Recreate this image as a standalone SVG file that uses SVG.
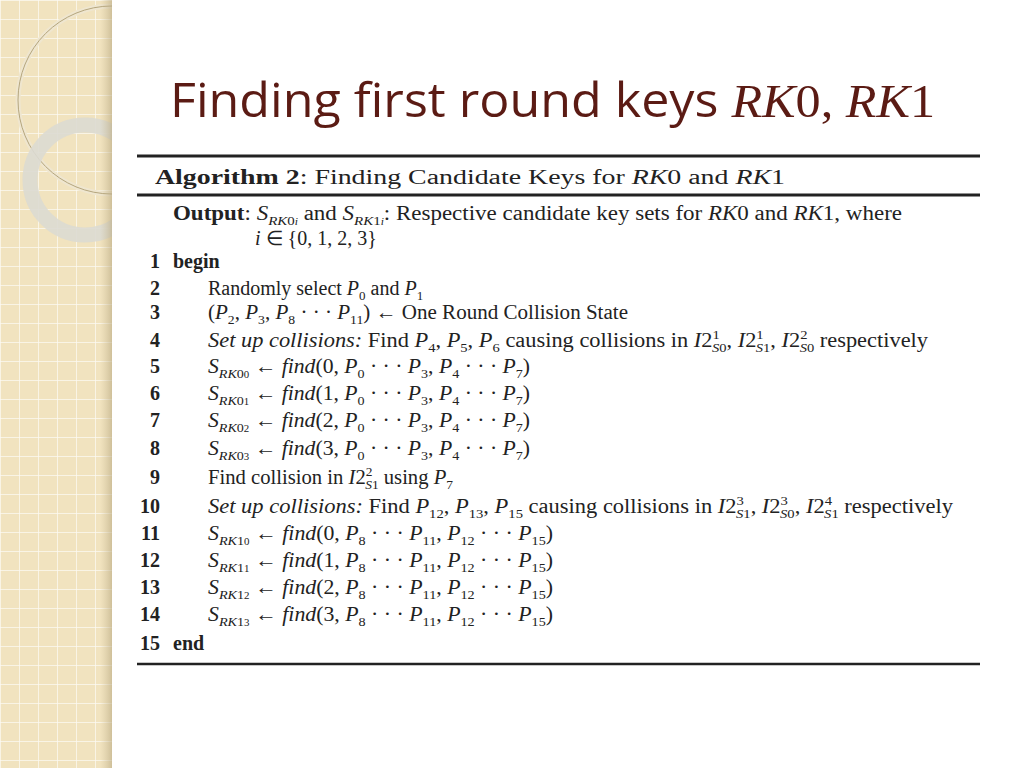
<svg xmlns="http://www.w3.org/2000/svg" width="1024" height="768" viewBox="0 0 1024 768">
<style>
.a{font-family:"Liberation Serif",serif;font-size:20px;fill:#222}
.b{font-weight:bold}
.i{font-style:italic}
.s{font-size:13px;baseline-shift:-5px}
.u{font-size:13px;baseline-shift:8px}
.n{font-weight:bold;text-anchor:end}
.g{stroke:#fff;stroke-width:1.5;opacity:.8}
</style>
<defs>
<clipPath id="c"><rect x="0" y="0" width="112" height="768"/></clipPath>
<linearGradient id="sh" x1="0" x2="1"><stop offset="0" stop-color="#c9b994" stop-opacity="0"/><stop offset="1" stop-color="#b8a880" stop-opacity=".6"/></linearGradient>
<pattern id="grid" width="19" height="19" patternUnits="userSpaceOnUse"><rect width="19" height="19" fill="#f1e3bf"/><path d="M0 0H19M0 0V19" class="g"/></pattern>
</defs>
<rect width="1024" height="768" fill="#fff"/>
<g id="strip" clip-path="url(#c)">
<rect width="112" height="768" fill="url(#grid)"/>
<circle cx="112" cy="100" r="94" fill="none" stroke="#efe6cf" stroke-width="5"/>
<circle cx="112" cy="100" r="94" fill="none" stroke="#b5a67e" stroke-width="1"/>
<circle cx="85" cy="180" r="55" fill="none" stroke="#dcdad2" stroke-width="15" opacity=".9"/>
<rect x="100" width="12" height="768" fill="url(#sh)"/>
</g>
<g id="title">
<text x="170" y="117" font-family="Open Sans,sans-serif" font-size="47" fill="#5b1b14" textLength="765" lengthAdjust="spacingAndGlyphs">Finding first round keys <tspan font-family="Liberation Serif,serif" font-style="italic">RK</tspan><tspan font-family="Liberation Serif,serif">0,</tspan><tspan font-family="Liberation Serif,serif" font-style="italic"> RK</tspan><tspan font-family="Liberation Serif,serif">1</tspan></text>
</g>
<g id="rules" stroke="#222">
<line x1="137" y1="156" x2="980" y2="156" stroke-width="3"/>
<line x1="137" y1="195" x2="980" y2="195" stroke-width="3"/>
<line x1="137" y1="664" x2="980" y2="664" stroke-width="2.5"/>
</g>
<g id="algorithm" class="a">
<text x="155" y="184" font-size="25" class="a" textLength="630" lengthAdjust="spacingAndGlyphs"><tspan class="b">Algorithm 2</tspan>: Finding Candidate Keys for <tspan class="i">RK</tspan>0 and <tspan class="i">RK</tspan>1</text>
<text x="173" y="220" class="a" textLength="729" lengthAdjust="spacingAndGlyphs"><tspan class="b">Output</tspan>: <tspan class="i">S</tspan><tspan class="s i">RK</tspan><tspan class="s">0<tspan class="i" font-size="10">i</tspan></tspan> and <tspan class="i">S</tspan><tspan class="s i">RK</tspan><tspan class="s">1<tspan class="i" font-size="10">i</tspan></tspan>: Respective candidate key sets for <tspan class="i">RK</tspan>0 and <tspan class="i">RK</tspan>1, where</text>
<text x="255" y="245" class="a"><tspan class="i">i</tspan> ∈ {0, 1, 2, 3}</text>
<g class="a n">
<text x="160" y="268">1</text><text x="160" y="295">2</text><text x="160" y="319">3</text><text x="160" y="347">4</text><text x="160" y="373">5</text><text x="160" y="400">6</text><text x="160" y="427">7</text><text x="160" y="455">8</text><text x="160" y="484">9</text><text x="160" y="513">10</text><text x="160" y="540">11</text><text x="160" y="567">12</text><text x="160" y="594">13</text><text x="160" y="621">14</text><text x="160" y="650">15</text>
</g>
<text x="173" y="268" class="a b">begin</text>
<text x="173" y="650" class="a b">end</text>
<text x="208" y="295" class="a">Randomly select <tspan class="i">P</tspan><tspan class="s">0</tspan> and <tspan class="i">P</tspan><tspan class="s">1</tspan></text>
<text x="208" y="319" class="a" textLength="420" lengthAdjust="spacingAndGlyphs">(<tspan class="i">P</tspan><tspan class="s">2</tspan>, <tspan class="i">P</tspan><tspan class="s">3</tspan>, <tspan class="i">P</tspan><tspan class="s">8</tspan> · · · <tspan class="i">P</tspan><tspan class="s">11</tspan>) ← One Round Collision State</text>
<text x="208" y="347" class="a" textLength="720" lengthAdjust="spacingAndGlyphs"><tspan class="i">Set up collisions:</tspan>  Find <tspan class="i">P</tspan><tspan class="s">4</tspan>, <tspan class="i">P</tspan><tspan class="s">5</tspan>, <tspan class="i">P</tspan><tspan class="s">6</tspan> causing collisions in <tspan class="i">I</tspan>2<tspan class="u">1</tspan><tspan class="s i" dx="-7">S</tspan><tspan class="s">0</tspan>, <tspan class="i">I</tspan>2<tspan class="u">1</tspan><tspan class="s i" dx="-7">S</tspan><tspan class="s">1</tspan>, <tspan class="i">I</tspan>2<tspan class="u">2</tspan><tspan class="s i" dx="-7">S</tspan><tspan class="s">0</tspan> respectively</text>
<text x="208" y="373" class="a" textLength="322" lengthAdjust="spacingAndGlyphs"><tspan class="i">S</tspan><tspan class="s i">RK</tspan><tspan class="s">0<tspan font-size="10">0</tspan></tspan> ← <tspan class="i">find</tspan>(0, <tspan class="i">P</tspan><tspan class="s">0</tspan> · · · <tspan class="i">P</tspan><tspan class="s">3</tspan>, <tspan class="i">P</tspan><tspan class="s">4</tspan> · · · <tspan class="i">P</tspan><tspan class="s">7</tspan>)</text>
<text x="208" y="400" class="a" textLength="322" lengthAdjust="spacingAndGlyphs"><tspan class="i">S</tspan><tspan class="s i">RK</tspan><tspan class="s">0<tspan font-size="10">1</tspan></tspan> ← <tspan class="i">find</tspan>(1, <tspan class="i">P</tspan><tspan class="s">0</tspan> · · · <tspan class="i">P</tspan><tspan class="s">3</tspan>, <tspan class="i">P</tspan><tspan class="s">4</tspan> · · · <tspan class="i">P</tspan><tspan class="s">7</tspan>)</text>
<text x="208" y="427" class="a" textLength="322" lengthAdjust="spacingAndGlyphs"><tspan class="i">S</tspan><tspan class="s i">RK</tspan><tspan class="s">0<tspan font-size="10">2</tspan></tspan> ← <tspan class="i">find</tspan>(2, <tspan class="i">P</tspan><tspan class="s">0</tspan> · · · <tspan class="i">P</tspan><tspan class="s">3</tspan>, <tspan class="i">P</tspan><tspan class="s">4</tspan> · · · <tspan class="i">P</tspan><tspan class="s">7</tspan>)</text>
<text x="208" y="455" class="a" textLength="322" lengthAdjust="spacingAndGlyphs"><tspan class="i">S</tspan><tspan class="s i">RK</tspan><tspan class="s">0<tspan font-size="10">3</tspan></tspan> ← <tspan class="i">find</tspan>(3, <tspan class="i">P</tspan><tspan class="s">0</tspan> · · · <tspan class="i">P</tspan><tspan class="s">3</tspan>, <tspan class="i">P</tspan><tspan class="s">4</tspan> · · · <tspan class="i">P</tspan><tspan class="s">7</tspan>)</text>
<text x="208" y="484" class="a" textLength="245" lengthAdjust="spacingAndGlyphs">Find collision in <tspan class="i">I</tspan>2<tspan class="u">2</tspan><tspan class="s i" dx="-7">S</tspan><tspan class="s">1</tspan> using <tspan class="i">P</tspan><tspan class="s">7</tspan></text>
<text x="208" y="513" class="a" textLength="745" lengthAdjust="spacingAndGlyphs"><tspan class="i">Set up collisions:</tspan>  Find <tspan class="i">P</tspan><tspan class="s">12</tspan>, <tspan class="i">P</tspan><tspan class="s">13</tspan>, <tspan class="i">P</tspan><tspan class="s">15</tspan> causing collisions in <tspan class="i">I</tspan>2<tspan class="u">3</tspan><tspan class="s i" dx="-7">S</tspan><tspan class="s">1</tspan>, <tspan class="i">I</tspan>2<tspan class="u">3</tspan><tspan class="s i" dx="-7">S</tspan><tspan class="s">0</tspan>, <tspan class="i">I</tspan>2<tspan class="u">4</tspan><tspan class="s i" dx="-7">S</tspan><tspan class="s">1</tspan> respectively</text>
<text x="208" y="540" class="a" textLength="345" lengthAdjust="spacingAndGlyphs"><tspan class="i">S</tspan><tspan class="s i">RK</tspan><tspan class="s">1<tspan font-size="10">0</tspan></tspan> ← <tspan class="i">find</tspan>(0, <tspan class="i">P</tspan><tspan class="s">8</tspan> · · · <tspan class="i">P</tspan><tspan class="s">11</tspan>, <tspan class="i">P</tspan><tspan class="s">12</tspan> · · · <tspan class="i">P</tspan><tspan class="s">15</tspan>)</text>
<text x="208" y="567" class="a" textLength="345" lengthAdjust="spacingAndGlyphs"><tspan class="i">S</tspan><tspan class="s i">RK</tspan><tspan class="s">1<tspan font-size="10">1</tspan></tspan> ← <tspan class="i">find</tspan>(1, <tspan class="i">P</tspan><tspan class="s">8</tspan> · · · <tspan class="i">P</tspan><tspan class="s">11</tspan>, <tspan class="i">P</tspan><tspan class="s">12</tspan> · · · <tspan class="i">P</tspan><tspan class="s">15</tspan>)</text>
<text x="208" y="594" class="a" textLength="345" lengthAdjust="spacingAndGlyphs"><tspan class="i">S</tspan><tspan class="s i">RK</tspan><tspan class="s">1<tspan font-size="10">2</tspan></tspan> ← <tspan class="i">find</tspan>(2, <tspan class="i">P</tspan><tspan class="s">8</tspan> · · · <tspan class="i">P</tspan><tspan class="s">11</tspan>, <tspan class="i">P</tspan><tspan class="s">12</tspan> · · · <tspan class="i">P</tspan><tspan class="s">15</tspan>)</text>
<text x="208" y="621" class="a" textLength="345" lengthAdjust="spacingAndGlyphs"><tspan class="i">S</tspan><tspan class="s i">RK</tspan><tspan class="s">1<tspan font-size="10">3</tspan></tspan> ← <tspan class="i">find</tspan>(3, <tspan class="i">P</tspan><tspan class="s">8</tspan> · · · <tspan class="i">P</tspan><tspan class="s">11</tspan>, <tspan class="i">P</tspan><tspan class="s">12</tspan> · · · <tspan class="i">P</tspan><tspan class="s">15</tspan>)</text>
</g>
</svg>
